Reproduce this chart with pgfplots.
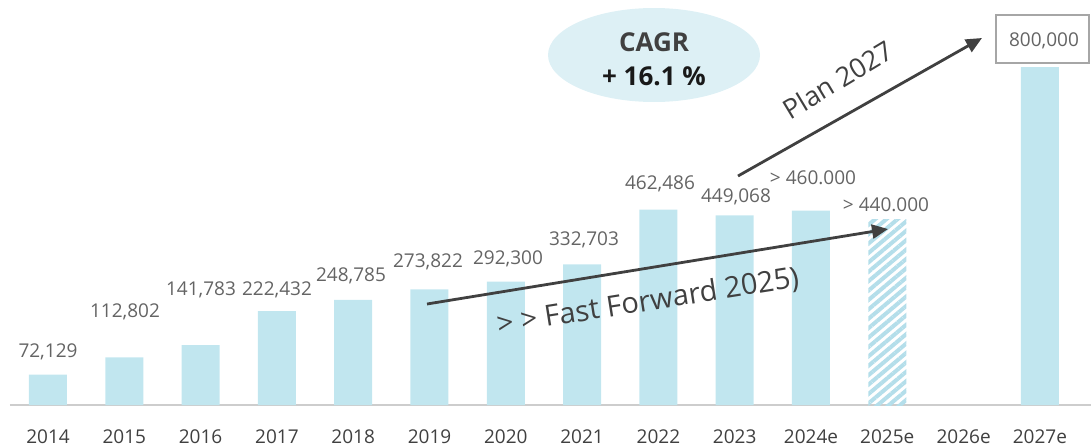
\documentclass[border=0pt]{standalone}
\usepackage{fontspec}
\setmainfont{Open Sans}
\usepackage{pgfplots}
\pgfplotsset{compat=1.18}
\usetikzlibrary{patterns.meta,arrows.meta}
\definecolor{barblue}{RGB}{193,230,239}
\definecolor{hatchblue}{RGB}{180,222,234}
\definecolor{ellfill}{RGB}{221,240,245}
\definecolor{labgray}{RGB}{100,100,100}
\definecolor{tickgray}{RGB}{64,64,64}
\definecolor{arrowgray}{RGB}{64,64,64}
\definecolor{axisgray}{RGB}{205,205,205}
\definecolor{boxgray}{RGB}{166,166,166}
\begin{document}
\begin{tikzpicture}
\useasboundingbox (0,0) rectangle (545.5pt,223pt);
\begin{axis}[
  at={(5pt,20.5pt)}, anchor=south west,
  scale only axis, width=540.5pt, height=202.5pt,
  xmin=-0.498, xmax=13.67, ymin=0, ymax=958580,
  hide y axis,
  axis x line*=bottom,
  x axis line style={draw=axisgray, line width=0.8pt},
  xtick={0,...,13},
  xticklabels={2014,2015,2016,2017,2018,2019,2020,2021,2022,2023,2024e,2025e,2026e,2027e},
  major tick length=0pt,
  x tick label style={font=\fontsize{9.5}{11}\selectfont, text=tickgray, inner sep=0pt, anchor=north, yshift=-12pt},
  clip=false,
]
\addplot[ybar, bar shift=0pt, bar width=19pt, fill=barblue, draw=none] coordinates {
  (0,72129) (1,112802) (2,141783) (3,222432) (4,248785) (5,273822) (6,292300)
  (7,332703) (8,462486) (9,449068) (10,460000) (13,800000)};
\addplot[ybar, bar shift=0pt, bar width=19pt, draw=none,
  pattern={Lines[angle=40, distance=3.6pt, line width=2pt]}, pattern color=hatchblue] coordinates {
  (11,440000)};
\end{axis}
\begin{scope}[x=0.5pt, y=-0.5pt, shift={(0pt,223pt)}]
\tikzset{lab/.style={font=\fontsize{9.5}{11}\selectfont, text=labgray, inner sep=0pt}}
\node[lab] at (48,352) {72,129};
\node[lab] at (125,312) {112,802};
\node[lab] at (201,290) {141,783};
\node[lab] at (277,290) {222,432};
\node[lab] at (351,276) {248,785};
\node[lab] at (428,262) {273,822};
\node[lab] at (508,259) {292,300};
\node[lab] at (584,240) {332,703};
\node[lab] at (660,184) {462,486};
\node[lab] at (736,197) {449,068};
\node[lab] at (813,178) {> 460.000};
\node[lab] at (886,205) {> 440.000};
% 800,000 box
\draw[boxgray, line width=0.8pt, fill=white] (996,15) rectangle (1089,63);
\node[lab] at (1044,41) {800,000};
% CAGR ellipse
\fill[ellfill] (654,55) ellipse [x radius=53pt, y radius=23.5pt];
\node[font=\bfseries\fontsize{13}{15}\selectfont, text=tickgray, inner sep=0pt] at (654,42) {CAGR};
\node[font=\bfseries\fontsize{13}{15}\selectfont, text=black!90, inner sep=0pt] at (654,76) {+ 16.1 \%};
% arrows
\draw[arrowgray, line width=1.4pt, -{Triangle[length=8pt,width=7pt]}] (427,304) -- (888,229);
\draw[arrowgray, line width=1.4pt, -{Triangle[length=8pt,width=7pt]}] (738,176) -- (982,38);
\node[font=\fontsize{14.5}{16}\selectfont, text=arrowgray, rotate=9, inner sep=0pt] at (648,302) {> > Fast Forward 2025)};
\node[font=\fontsize{13.5}{15}\selectfont, text=arrowgray, rotate=31, inner sep=0pt] at (838,80) {Plan 2027};
\end{scope}
\end{tikzpicture}
\end{document}
